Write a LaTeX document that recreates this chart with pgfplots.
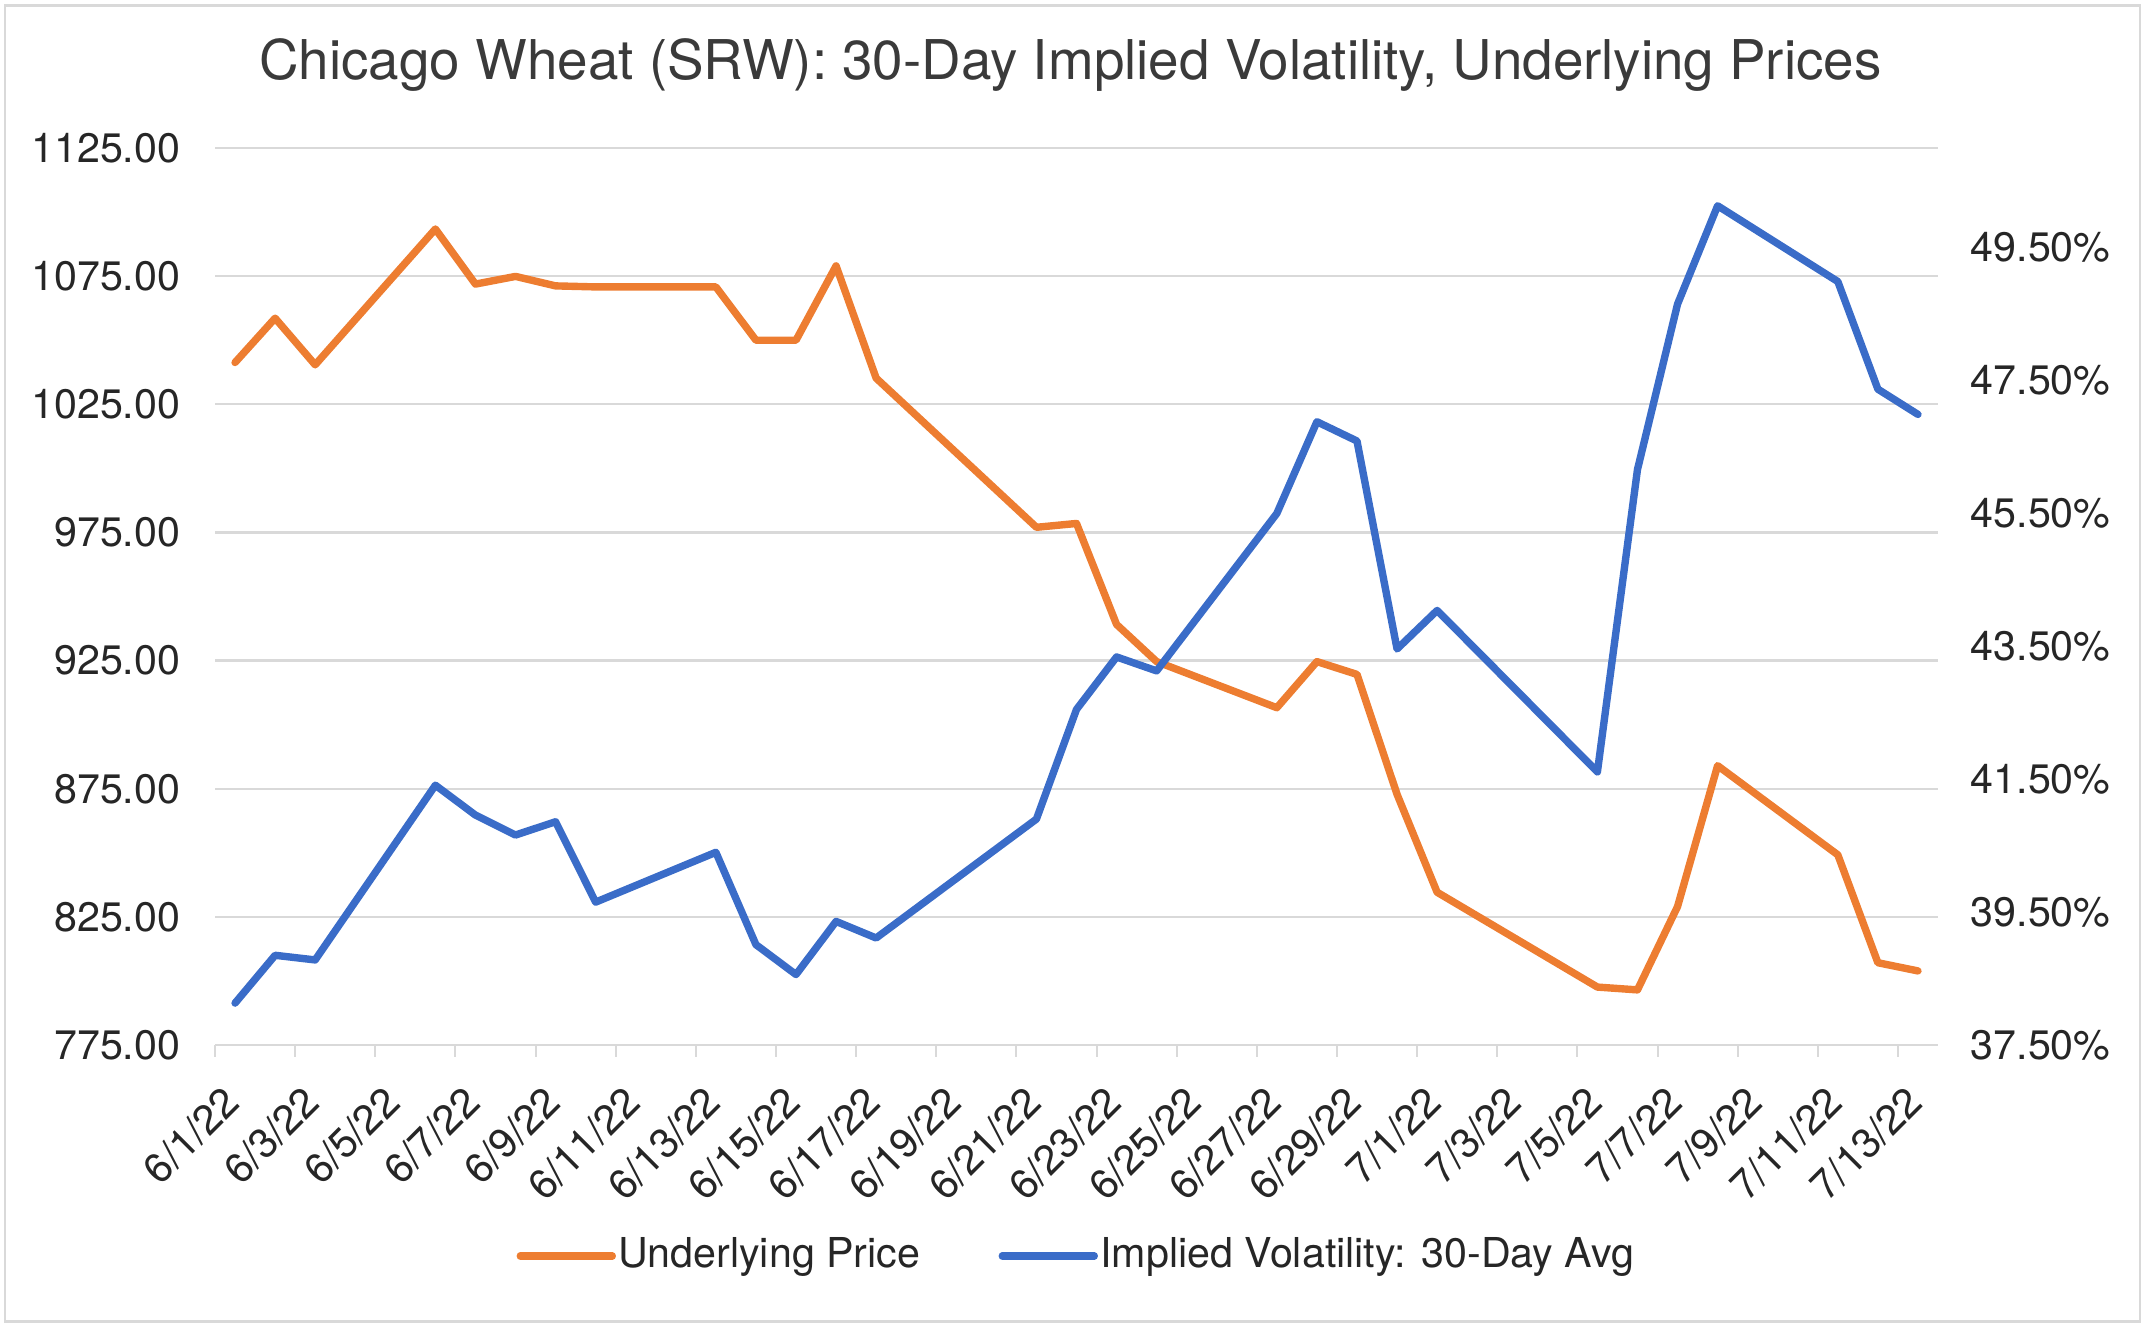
\documentclass[border=0pt]{standalone}
\usepackage{pgfplots}
\usepackage{pgfplotstable}
\pgfplotsset{compat=1.18}
\usepackage{fontspec}
\setmainfont{TeX Gyre Heros}
\definecolor{priceorange}{HTML}{ED7D31}
\definecolor{ivblue}{HTML}{3A6CC8}
\definecolor{gridgray}{HTML}{D9D9D9}
\definecolor{txt}{HTML}{262626}
\definecolor{titletxt}{HTML}{3A3A3A}

\pgfplotstableread{
day price
0 1041.3
1 1058.6
2 1040.4
5 1093.4
6 1071.9
7 1074.9
8 1071.2
9 1070.8
12 1070.8
13 1050.0
14 1050.0
15 1079.0
16 1035.2
20 977.0
21 978.5
22 939.1
23 924.6
26 906.6
27 924.6
28 919.6
29 872.8
30 834.6
34 797.6
35 796.5
36 829.0
37 884.0
40 849.2
41 807.1
42 803.9
}\pricedata

\pgfplotstableread{
day iv
0 38.13
1 38.85
2 38.78
5 41.41
6 40.96
7 40.66
8 40.86
9 39.65
12 40.40
13 39.01
14 38.56
15 39.36
16 39.11
20 40.90
21 42.55
22 43.34
23 43.13
26 45.50
27 46.88
28 46.59
29 43.46
30 44.04
34 41.61
35 46.16
36 48.65
37 50.13
40 48.99
41 47.37
42 46.99
}\ivdata

\begin{document}
\begin{tikzpicture}
\useasboundingbox (0,0) rectangle (536.25pt,332pt);
\draw[gridgray, line width=0.6pt] (1.3pt,1.6pt) rectangle (535pt,330.6pt);
\node[anchor=base, font=\fontsize{13.7}{16}\selectfont, text=titletxt, inner sep=0pt] at (267.6pt,312pt) {Chicago Wheat (SRW): 30-Day Implied Volatility, Underlying Prices};

\begin{axis}[
  at={(53.75pt,70.75pt)}, anchor=south west,
  width=430.75pt, height=224.25pt, scale only axis,
  xmin=-0.5, xmax=42.5, ymin=775, ymax=1125,
  axis line style={draw=none},
  xtick={-0.5,1.5,3.5,5.5,7.5,9.5,11.5,13.5,15.5,17.5,19.5,21.5,23.5,25.5,27.5,29.5,31.5,33.5,35.5,37.5,39.5,41.5},
  xticklabels={6/1/22,6/3/22,6/5/22,6/7/22,6/9/22,6/11/22,6/13/22,6/15/22,6/17/22,6/19/22,6/21/22,6/23/22,6/25/22,6/27/22,6/29/22,7/1/22,7/3/22,7/5/22,7/7/22,7/9/22,7/11/22,7/13/22},
  xtick pos=bottom, xtick align=outside, major tick length=3pt,
  xtick style={draw=gridgray, line width=0.5pt},
  ytick={775,825,875,925,975,1025,1075,1125},
  yticklabels={775.00,825.00,875.00,925.00,975.00,1025.00,1075.00,1125.00},
  ytick style={draw=none},
  ymajorgrids, grid style={draw=gridgray, line width=0.6pt},
  tick label style={font=\fontsize{10.3}{12}\selectfont, text=txt},
  yticklabel style={anchor=east, inner sep=0pt, xshift=-8.5pt},
  xticklabel style={inner sep=0pt, anchor=east, xshift=4.3pt, yshift=-9.3pt, rotate=45},
  legend style={at={(0.5,-0.2352)}, anchor=center, draw=none, fill=none,
    legend columns=2, font=\fontsize{10.3}{12}\selectfont, text=txt,
    nodes={inner sep=0.6pt},
    /tikz/every even column/.append style={column sep=19pt}},
  legend image code/.code={\draw[#1] (0pt,0pt) -- (23pt,0pt);},
]
\addplot[priceorange, line width=1.85pt, line join=round, line cap=round] table[x=day,y=price]{\pricedata};
\addlegendentry{Underlying Price}
\addlegendimage{ivblue, line width=1.85pt, line cap=round}
\addlegendentry{Implied Volatility: 30-Day Avg}
\end{axis}

\begin{axis}[
  at={(53.75pt,70.75pt)}, anchor=south west,
  width=430.75pt, height=224.25pt, scale only axis,
  xmin=-0.5, xmax=42.5, ymin=37.5, ymax=51.0,
  hide x axis,
  axis y line*=right,
  axis line style={draw=none},
  ytick={37.5,39.5,41.5,43.5,45.5,47.5,49.5},
  yticklabels={37.50\%,39.50\%,41.50\%,43.50\%,45.50\%,47.50\%,49.50\%},
  ytick style={draw=none},
  yticklabel style={anchor=west, inner sep=0pt, xshift=8pt, font=\fontsize{10.3}{12}\selectfont, text=txt},
]
\addplot[ivblue, line width=1.85pt, line join=round, line cap=round] table[x=day,y=iv]{\ivdata};
\end{axis}
\end{tikzpicture}
\end{document}
